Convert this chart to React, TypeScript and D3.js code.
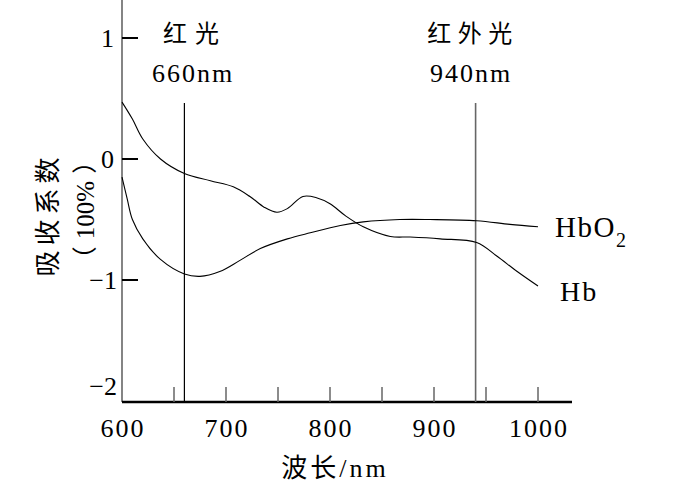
import React from "react";
import * as d3 from "d3";

const hbNm = [600, 610, 620, 637, 660, 685, 707, 723, 737, 749, 759, 774, 787, 800, 815, 832, 858, 877, 906, 941, 960, 980, 1000];
const hbVal = [0.47, 0.33, 0.165, 0.0, -0.12, -0.18, -0.23, -0.31, -0.40, -0.44, -0.41, -0.31, -0.32, -0.37, -0.47, -0.56, -0.64, -0.645, -0.66, -0.69, -0.80, -0.93, -1.05];

const hbo2Nm = [600, 605, 610, 620, 637, 660, 675, 694, 713, 733, 759, 781, 810, 832, 867, 896, 941, 973, 1000];
const hbo2Val = [-0.15, -0.33, -0.5, -0.66, -0.83, -0.95, -0.97, -0.93, -0.84, -0.74, -0.66, -0.61, -0.55, -0.52, -0.5, -0.5, -0.51, -0.54, -0.56];

const yTicks = [1, 0, -1, -2];
const xTickLabels = [600, 700, 800, 900, 1000];
const xMinorTicks = [650, 700, 750, 800, 850, 900, 950, 1000];
const markers = [
  { nm: 660, name: "红光", label: "660nm" },
  { nm: 940, name: "红外光", label: "940nm" },
];

const serif = "'Liberation Serif', 'Times New Roman', serif";
const cjk = "'Noto Sans CJK SC', sans-serif";

export default function App() {
  const x = d3.scaleLinear().domain([600, 1000]).range([122, 538]);
  const y = d3.scaleLinear().domain([-2, 1]).range([401, 38]);
  const line = d3
    .line<[number, number]>()
    .x((d) => x(d[0]))
    .y((d) => y(d[1]))
    .curve(d3.curveCatmullRom.alpha(0.5));
  const hb = line(hbNm.map((n, i) => [n, hbVal[i]]) as [number, number][]) || "";
  const hbo2 = line(hbo2Nm.map((n, i) => [n, hbo2Val[i]]) as [number, number][]) || "";
  const x0 = x(600);
  const yBase = y(-2) + 1;

  return (
    <svg width={677} height={494} style={{ position: "absolute", left: 0, top: 0, background: "#fff" }}>
      {/* y axis */}
      <line x1={x0} x2={x0} y1={0} y2={yBase} stroke="#666" strokeWidth={1.6} />
      {yTicks.map((t) => (
        <g key={t}>
          {t !== -2 && (
            <line x1={x0} x2={x0 + 16} y1={y(t)} y2={y(t)} stroke="#000" strokeWidth={2} />
          )}
          <text
            x={t < 0 ? 117 : 114}
            y={t === -2 ? y(t) - 15 : y(t)}
            dy="0.35em"
            textAnchor="end"
            fontFamily={serif}
            fontSize={26}
          >
            {t < 0 ? "\u2212" + Math.abs(t) : t}
          </text>
        </g>
      ))}
      {/* x axis */}
      <line x1={x0} x2={572} y1={yBase} y2={yBase} stroke="#000" strokeWidth={2.5} />
      {xMinorTicks.map((t) => (
        <line key={t} x1={x(t)} x2={x(t)} y1={yBase - 15} y2={yBase} stroke="#666" strokeWidth={1.5} />
      ))}
      {xTickLabels.map((t) => (
        <text key={t} x={x(t) + 1} y={437} textAnchor="middle" fontFamily={serif} fontSize={26} letterSpacing={2}>
          {t}
        </text>
      ))}
      <text x={335} y={477} textAnchor="middle" fontSize={26} letterSpacing={3}>
        <tspan fontFamily={cjk}>波长</tspan>
        <tspan fontFamily={serif}>/nm</tspan>
      </text>
      {/* y label */}
      <text
        transform={`translate(48,214.5) rotate(-90)`}
        textAnchor="middle"
        dy="0.35em"
        fontFamily={cjk}
        fontSize={26}
        letterSpacing={5}
      >
        吸收系数
      </text>
      <text
        transform={`translate(85,210) rotate(-90)`}
        textAnchor="middle"
        dy="0.35em"
        fontSize={25}
      >
        <tspan fontFamily={cjk}>（</tspan>
        <tspan fontFamily={serif} dx={7}>100%</tspan>
        <tspan fontFamily={cjk} dx={7}>）</tspan>
      </text>
      {/* marker lines */}
      {markers.map((m, i) => (
        <g key={m.nm}>
          <line
            x1={x(m.nm)}
            x2={x(m.nm)}
            y1={103}
            y2={yBase}
            stroke={i === 0 ? "#000" : "#666"}
            strokeWidth={i === 0 ? 1.2 : 1.6}
          />
          <text
            x={i === 0 ? 195 : 473}
            y={34}
            dy="0.35em"
            textAnchor="middle"
            fontFamily={cjk}
            fontSize={24}
            letterSpacing={i === 0 ? 8 : 6.5}
          >
            {m.name}
          </text>
          <text x={i === 0 ? 193 : 471} y={82} textAnchor="middle" fontFamily={serif} fontSize={26} letterSpacing={2}>
            {m.label}
          </text>
        </g>
      ))}
      {/* curves */}
      <path d={hb} fill="none" stroke="#000" strokeWidth={1.1} />
      <path d={hbo2} fill="none" stroke="#000" strokeWidth={1.1} />
      <text x={555} y={237} fontFamily={serif} fontSize={29} letterSpacing={1.5}>
        HbO<tspan fontSize={20} dy={10}>2</tspan>
      </text>
      <text x={560} y={301} fontFamily={serif} fontSize={28} letterSpacing={2}>
        Hb
      </text>
    </svg>
  );
}
